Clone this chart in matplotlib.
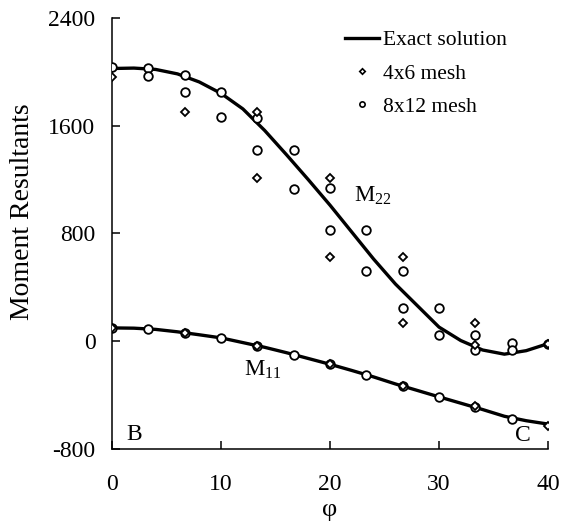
import numpy as np
import matplotlib.pyplot as plt
from matplotlib.lines import Line2D

plt.rcParams['font.family'] = 'Liberation Serif'
plt.rcParams['mathtext.fontset'] = 'custom'
plt.rcParams['mathtext.rm'] = 'Liberation Serif'

# exact solution
phi_exact = [0, 2, 4, 6, 8, 10, 12, 14, 16, 18, 20, 22, 24, 26, 28, 30, 32, 34, 36, 38, 40]
m22_exact = [2025, 2028, 2018, 1985, 1925, 1840, 1725, 1565, 1385, 1200, 1010, 810, 610, 425, 265,
             105, 5, -65, -96, -70, -18]
m11_exact = [99, 97, 88, 70, 48, 25, -10, -45, -85, -128, -171, -217, -265, -317, -365, -413,
             -460, -507, -557, -590, -615]

# 4x6 mesh
phi_4x6_m22 = [0, 6.67, 13.33, 13.33, 20, 20, 26.67, 26.67, 33.33, 33.33, 40]
m22_4x6 = [1961, 1701, 1700, 1213, 1213, 624, 624, 136, 136, -25, -17]
phi_4x6_m11 = [0, 6.67, 13.33, 20, 26.67, 33.33, 40]
m11_4x6 = [99, 62, -35, -171, -334, -478, -626]

# 8x12 mesh
phi_8x12_m22 = [0, 3.33, 3.33, 6.67, 6.67, 10, 10, 13.33, 13.33, 16.67, 16.67, 20, 20,
                23.33, 23.33, 26.67, 26.67, 30, 30, 33.33, 33.33, 36.67, 36.67, 40]
m22_8x12 = [2035, 2026, 1968, 1976, 1847, 1847, 1662, 1659, 1417, 1419, 1134, 1137, 827,
            827, 518, 518, 245, 245, 45, 45, -62, -15, -67, -17]
phi_8x12_m11 = [0, 3.33, 6.67, 10, 13.33, 16.67, 20, 23.33, 26.67, 30, 33.33, 36.67]
m11_8x12 = [99, 92, 62, 25, -35, -99, -171, -248, -334, -413, -490, -574]

fig = plt.figure(figsize=(5.72, 5.26), dpi=100)
ax = fig.add_axes([0.196, 0.1464, 0.762, 0.8194])

ax.plot(phi_exact, m22_exact, color='black', lw=2.4, zorder=2)
ax.plot(phi_exact, m11_exact, color='black', lw=2.4, zorder=2)

circ = dict(ls='none', marker='o', ms=6.2, mfc='white', mec='black', mew=1.3, zorder=3)
diam = dict(ls='none', marker='D', ms=4.0, mfc='white', mec='black', mew=1.3, zorder=4)
ax.plot(phi_8x12_m22, m22_8x12, **circ)
ax.plot(phi_8x12_m11, m11_8x12, **circ)
ax.plot(phi_4x6_m22, m22_4x6, **diam)
ax.plot(phi_4x6_m11, m11_4x6, **diam)

ax.set_xlim(0, 40)
ax.set_ylim(-800, 2400)
ax.set_xticks([0, 10, 20, 30, 40])
ax.set_yticks([-800, 0, 800, 1600, 2400])
ax.set_yticklabels(['-800', '0', '800', '1600', '2400'])
ax.spines['top'].set_visible(False)
ax.spines['right'].set_visible(False)
for s in ['left', 'bottom']:
    ax.spines[s].set_linewidth(1.1)
ax.tick_params(direction='in', length=6, width=1.1, labelsize=17)
ax.tick_params(axis='x', pad=18)
ax.tick_params(axis='y', pad=12)

ax.set_xlabel('φ', fontsize=19, labelpad=3)
ax.set_ylabel('Moment Resultants', fontsize=20)
ax.yaxis.set_label_coords(-0.178, 0.55)

ax.text(22.2, 1040, r'M$_{22}$', fontsize=16.5, ha='left', va='baseline')
ax.text(12.1, -253, r'M$_{11}$', fontsize=16.5, ha='left', va='baseline')
ax.text(1.35, -730, 'B', fontsize=17, ha='left', va='baseline')
ax.text(37.0, -738, 'C', fontsize=17, ha='left', va='baseline')

handles = [Line2D([], [], color='black', lw=2.4),
           Line2D([], [], ls='none', marker='D', ms=2.8, mfc='white', mec='black', mew=1.2),
           Line2D([], [], ls='none', marker='o', ms=3.8, mfc='white', mec='black', mew=1.2)]
ax.legend(handles, ['Exact solution', '4x6 mesh', '8x12 mesh'], loc='upper left',
          bbox_to_anchor=(0.535, 0.972), frameon=False, fontsize=15.5, handlelength=1.55,
          handletextpad=0.2, labelspacing=0.62, borderpad=0, borderaxespad=0)

plt.savefig('out.png', dpi=100)
